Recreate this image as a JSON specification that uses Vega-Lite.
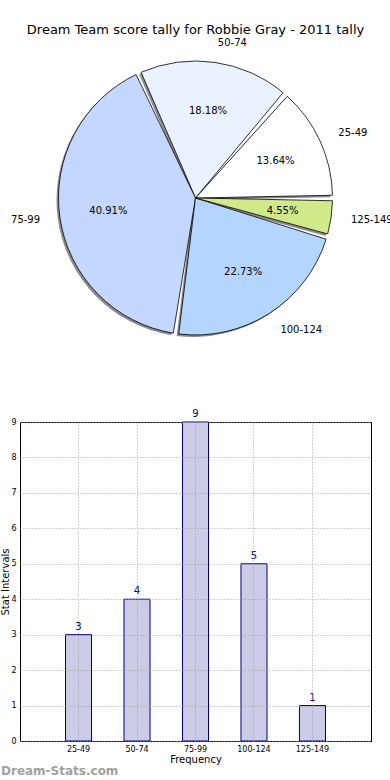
{
  "$schema": "https://vega.github.io/schema/vega-lite/v6.json",
  "padding": {"left": 0, "top": 23, "right": 0, "bottom": 0},
  "bounds": "flush",
  "spacing": 67,
  "config": {
    "font": "DejaVu Sans",
    "view": {"stroke": "black", "strokeWidth": 1},
    "axis": {"labelColor": "black", "titleColor": "black", "labelFont": "DejaVu Sans", "titleFont": "DejaVu Sans", "titleFontWeight": "normal"}
  },
  "datasets": {
    "d": [
      {"cat": "25-49", "n": 3, "pct": "13.64%", "i": 1},
      {"cat": "50-74", "n": 4, "pct": "18.18%", "i": 2},
      {"cat": "75-99", "n": 9, "pct": "40.91%", "i": 3},
      {"cat": "100-124", "n": 5, "pct": "22.73%", "i": 4},
      {"cat": "125-149", "n": 1, "pct": "4.55%", "i": 5}
    ]
  },
  "vconcat": [
    {
      "width": 351,
      "height": 314,
      "view": {"stroke": null},
      "title": {"text": "Dream Team score tally for Robbie Gray - 2011 tally", "fontSize": 13, "fontWeight": "normal", "color": "black", "anchor": "middle", "frame": "group", "offset": 1},
      "data": {"name": "d"},
      "encoding": {
        "theta": {"field": "n", "type": "quantitative", "stack": true, "scale": {"range": [1.5708, 7.85398]}},
        "order": {"field": "i", "sort": "descending"}
      },
      "layer": [
        {
          "mark": {"type": "arc", "outerRadius": 137, "padAngle": 0.04, "fill": "#8c8c8c", "xOffset": -2, "yOffset": 2}
        },
        {
          "mark": {"type": "arc", "outerRadius": 137, "padAngle": 0.04, "stroke": "black", "strokeWidth": 0.8},
          "encoding": {
            "color": {"field": "cat", "type": "nominal", "legend": null,
              "scale": {"domain": ["25-49", "50-74", "75-99", "100-124", "125-149"],
                        "range": ["#ffffff", "#eaf1ff", "#c4d8ff", "#b3d5ff", "#d0ea8a"]}}
          }
        },
        {
          "mark": {"type": "text", "radius": 88, "fontSize": 10, "color": "black"},
          "encoding": {"text": {"field": "pct"}}
        },
        {
          "mark": {"type": "text", "radius": 157, "fontSize": 10, "color": "black", "align": "left"},
          "encoding": {"text": {"condition": {"test": "datum.cat !== '75-99'", "field": "cat"}, "value": ""}}
        },
        {
          "mark": {"type": "text", "radius": 157, "fontSize": 10, "color": "black", "align": "right"},
          "encoding": {"text": {"condition": {"test": "datum.cat === '75-99'", "field": "cat"}, "value": ""}}
        }
      ]
    },
    {
      "width": 351,
      "height": 319,
      "data": {"name": "d"},
      "title": {"text": "Dream-Stats.com", "orient": "bottom", "anchor": "start", "frame": "group", "dx": -19, "offset": 2, "fontSize": 12, "fontWeight": "bold", "color": "#a0a0a0"},
      "encoding": {
        "x": {"field": "cat", "type": "nominal", "sort": ["25-49", "50-74", "75-99", "100-124", "125-149"],
              "scale": {"paddingInner": 0.555, "paddingOuter": 0.778},
              "axis": {"title": "Frequency", "titleFontSize": 10, "titlePadding": 1, "labelFontSize": 8, "labelAngle": 0, "labelPadding": 4, "ticks": false, "domain": false, "grid": true, "bandPosition": 0.5, "gridDash": [1, 2], "gridColor": "#a0a0a0", "zindex": 1}},
        "y": {"field": "n", "type": "quantitative", "scale": {"domain": [0, 9], "nice": false},
              "axis": {"title": "Stat Intervals", "titleFontSize": 10, "titlePadding": 0, "labelFontSize": 8, "values": [0, 1, 2, 3, 4, 5, 6, 7, 8, 9], "labelPadding": 4, "ticks": false, "domain": false, "grid": true, "gridDash": [1, 2], "gridColor": "#a0a0a0", "zindex": 1}}
      },
      "layer": [
        {"mark": {"type": "bar", "fill": "#cbcce5", "stroke": "#000080", "strokeWidth": 1}},
        {"mark": {"type": "text", "dy": -8, "color": "#000080", "fontSize": 10}, "encoding": {"text": {"field": "n"}}}
      ]
    }
  ]
}
